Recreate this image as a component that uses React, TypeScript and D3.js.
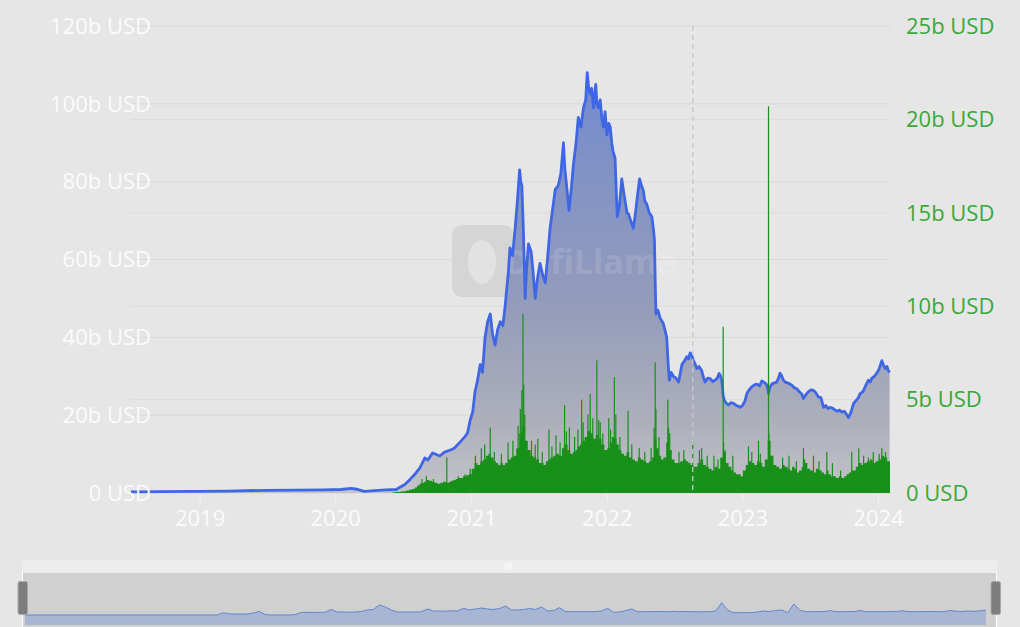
import React from "react";
import * as d3 from "d3";

// ---------- DATA ----------
// TVL (left axis, billions USD)
const tvlSeries: [string, number][] = [
  ["2018-06-29",0.3],["2018-09-15",0.35],["2018-12-01",0.4],["2019-01-01",0.4],["2019-03-15",0.5],["2019-06-30",0.7],["2019-09-15",0.75],["2019-12-01",0.8],["2020-01-15",0.9],["2020-02-12",1.2],["2020-03-01",0.9],["2020-03-18",0.4],["2020-04-15",0.6],["2020-05-15",0.8],["2020-06-12",0.9],["2020-06-22",1.5],["2020-07-05",2.2],["2020-07-19",3.5],["2020-08-01",4.8],["2020-08-15",6.5],["2020-08-28",9],["2020-09-05",8.5],["2020-09-18",10.3],["2020-09-25",10],["2020-10-07",9.5],["2020-10-20",10.5],["2020-11-03",11],["2020-11-15",11.5],["2020-11-30",13],["2020-12-14",14.5],["2020-12-21",15.5],["2020-12-28",18.7],
  ["2021-01-04",21],["2021-01-10",26],["2021-01-17",29],["2021-01-24",33],["2021-01-30",31],["2021-02-06",40],["2021-02-13",44],["2021-02-20",46],["2021-02-26",41],["2021-03-05",38],["2021-03-12",42],["2021-03-19",44],["2021-03-26",43],["2021-04-01",48],["2021-04-10",57],["2021-04-14",63],["2021-04-21",61],["2021-04-28",68],["2021-05-04",75],["2021-05-10",83],["2021-05-13",80],["2021-05-16",79],["2021-05-20",68],["2021-05-25",50],["2021-05-29",58],["2021-06-03",64],["2021-06-10",62],["2021-06-15",57],["2021-06-21",50],["2021-06-27",55],["2021-07-04",59],["2021-07-11",56],["2021-07-18",54],["2021-07-24",60],["2021-07-31",68],["2021-08-07",73],["2021-08-14",78],["2021-08-22",79],["2021-08-29",82],["2021-09-05",90],["2021-09-09",83],["2021-09-14",78.5],["2021-09-20",72.6],["2021-09-26",78],["2021-10-02",84.5],["2021-10-09",90],["2021-10-15",96.5],["2021-10-22",94],["2021-10-29",99],["2021-11-04",101],["2021-11-08",108],["2021-11-12",104],["2021-11-16",102.5],["2021-11-20",104],["2021-11-25",99],["2021-12-01",105],["2021-12-04",100],["2021-12-08",99],["2021-12-13",101],["2021-12-17",96.5],["2021-12-22",94],["2021-12-26",98],["2021-12-31",92],
  ["2022-01-05",95],["2022-01-09",94],["2022-01-13",90],["2022-01-16",88],["2022-01-22",86],["2022-01-25",78],["2022-01-28",71],["2022-02-03",74],["2022-02-09",80.7],["2022-02-13",78],["2022-02-18",75],["2022-02-23",72],["2022-02-27",71.7],["2022-03-05",70],["2022-03-12",68],["2022-03-18",72],["2022-03-24",77],["2022-03-29",80.7],["2022-04-03",79],["2022-04-08",77.7],["2022-04-12",75],["2022-04-17",74.3],["2022-04-24",72],["2022-05-01",71],["2022-05-05",68],["2022-05-08",65],["2022-05-10",54],["2022-05-12",46],["2022-05-17",47],["2022-05-23",45],["2022-06-01",43.5],["2022-06-10",40],["2022-06-14",33],["2022-06-17",29],["2022-06-22",31],["2022-06-28",30],["2022-07-05",29.5],["2022-07-12",28.5],["2022-07-17",31],["2022-07-21",33],["2022-07-28",34],["2022-08-03",35],["2022-08-08",34.5],["2022-08-12",36],["2022-08-16",35.5],["2022-08-21",34],["2022-08-26",33],["2022-08-30",32],["2022-09-05",32.5],["2022-09-12",31.5],["2022-09-16",30],["2022-09-21",28.5],["2022-09-28",29.5],["2022-10-05",29.4],["2022-10-12",28.6],["2022-10-18",29],["2022-10-24",29.5],["2022-10-29",30.7],["2022-11-02",30],["2022-11-05",29],["2022-11-09",25],["2022-11-12",23.8],["2022-11-18",23],["2022-11-23",22.6],["2022-11-30",23.2],["2022-12-07",23],["2022-12-14",22.5],["2022-12-20",22.3],["2022-12-25",22],["2022-12-31",22.5],
  ["2023-01-06",23.5],["2023-01-12",25.6],["2023-01-18",26.5],["2023-01-25",27.3],["2023-02-01",27.8],["2023-02-08",28],["2023-02-15",27.5],["2023-02-21",28.8],["2023-02-26",28.5],["2023-03-05",28],["2023-03-10",26.5],["2023-03-11",25.6],["2023-03-14",27],["2023-03-20",28],["2023-03-27",28.3],["2023-04-02",28.5],["2023-04-07",29.5],["2023-04-11",30.8],["2023-04-15",30.2],["2023-04-20",29],["2023-04-25",28.5],["2023-05-01",28.3],["2023-05-08",28],["2023-05-15",27.5],["2023-05-20",27],["2023-05-26",26.8],["2023-06-02",26],["2023-06-08",25.5],["2023-06-13",24.3],["2023-06-19",25.2],["2023-06-26",26],["2023-07-03",26.5],["2023-07-10",26.4],["2023-07-16",25.8],["2023-07-23",24.7],["2023-07-30",24.5],["2023-08-06",22],["2023-08-12",22.5],["2023-08-18",21.7],["2023-08-24",22],["2023-08-30",21.8],["2023-09-06",21.3],["2023-09-12",21],["2023-09-18",21.3],["2023-09-24",20.8],["2023-10-01",21],["2023-10-07",20.2],["2023-10-12",19.4],["2023-10-18",20.5],["2023-10-26",23],["2023-11-02",23.8],["2023-11-08",24.5],["2023-11-13",25.6],["2023-11-20",26],["2023-11-27",27.5],["2023-12-05",29],["2023-12-10",28.5],["2023-12-14",29.5],["2023-12-19",29.8],["2023-12-25",30.5],
  ["2024-01-01",31.5],["2024-01-05",32.5],["2024-01-10",34],["2024-01-14",33],["2024-01-19",32],["2024-01-24",32.5],["2024-01-27",31.5],["2024-01-31",31]
];

// Volume (right axis, billions USD): weekly levels per month
const volMonths = [
  "2020-06","2020-07","2020-08","2020-09","2020-10","2020-11","2020-12",
  "2021-01","2021-02","2021-03","2021-04","2021-05","2021-06","2021-07","2021-08","2021-09","2021-10","2021-11","2021-12",
  "2022-01","2022-02","2022-03","2022-04","2022-05","2022-06","2022-07","2022-08","2022-09","2022-10","2022-11","2022-12",
  "2023-01","2023-02","2023-03","2023-04","2023-05","2023-06","2023-07","2023-08","2023-09","2023-10","2023-11","2023-12",
  "2024-01"
];
const volWeekly: number[][] = [
  [0.03,0.05,0.06,0.08],[0.1,0.13,0.18,0.22],[0.3,0.4,0.5,0.55,0.6],[0.7,0.65,0.6,0.55],[0.5,0.55,0.6,0.55],[0.6,0.65,0.7,0.75,0.8],[0.8,0.9,0.95,1.0],
  [1.3,1.6,1.5,1.7],[1.8,2.0,2.1,1.9],[1.7,1.6,1.5,1.6,1.5],[1.6,1.8,1.9,2.0],[2.4,3.2,3.6,2.8],[2.3,2.0,1.9,1.8],[1.6,1.6,1.5,1.7,1.8],[1.9,2.0,2.1,2.0],[2.4,2.6,2.3,2.1],[2.2,2.3,2.5,2.6,2.8],[3.0,3.3,3.2,2.9],[3.1,2.9,2.6,2.3],
  [2.4,2.7,3.0,2.9,2.6],[2.3,2.1,2.0,2.2],[1.9,1.8,1.7,1.9],[1.8,1.7,1.6,1.7],[1.9,2.9,2.4,2.0,1.8],[1.9,2.7,2.3,1.8],[1.6,1.6,1.7,1.8],[1.7,1.6,1.5,1.4,1.4],[1.6,1.8,1.5,1.4],[1.3,1.2,1.4,1.3],[1.9,2.2,1.6,1.4],[1.2,1.1,1.0,1.0,0.9],
  [1.2,1.5,1.7,1.6],[1.5,1.7,1.6,1.4],[1.8,2.8,2.0,1.5],[1.4,1.3,1.5,1.4],[1.3,1.2,1.4,1.3,1.1],[1.2,1.4,1.6,1.3],[1.2,1.1,1.3,1.2],[1.1,1.0,1.2,1.0,0.9],[0.9,0.8,0.9,0.8],[0.9,1.0,1.1,1.2,1.2],[1.4,1.6,1.5,1.6],[1.7,1.8,1.6,1.7],
  [1.8,2.0,1.9,1.7]
];
// Daily volume spikes (billions USD)
const volSpikes: [string, number][] = [
  ["2020-08-20",0.75],["2020-09-01",0.9],["2020-09-20",0.75],["2020-10-26",1.9],["2020-11-26",0.9],["2020-12-14",1.0],["2020-12-28",1.3],
  ["2021-01-11",2.0],["2021-01-27",2.4],["2021-02-05",2.6],["2021-02-20",3.5],["2021-03-03",2.2],["2021-03-22",2.1],["2021-04-09",2.7],["2021-04-22",2.8],["2021-05-06",3.6],["2021-05-12",4.5],["2021-05-16",5.5],["2021-05-19",9.6],["2021-05-21",5.8],["2021-05-24",4.2],["2021-06-11",2.8],["2021-06-21",2.6],["2021-06-28",2.9],["2021-07-10",2.2],["2021-07-28",3.4],["2021-08-05",2.5],["2021-08-16",3.1],["2021-08-27",2.7],["2021-09-08",4.7],["2021-09-13",3.3],["2021-09-21",3.5],["2021-10-05",3.0],["2021-10-14",3.4],["2021-10-24",5.0],["2021-10-28",3.8],["2021-11-10",4.2],["2021-11-16",5.3],["2021-11-23",4.0],["2021-12-04",7.1],["2021-12-09",3.9],["2021-12-13",3.8],["2021-12-20",3.2],
  ["2022-01-05",4.0],["2022-01-10",3.4],["2022-01-20",6.2],["2022-01-24",4.2],["2022-02-04",3.0],["2022-02-26",4.4],["2022-03-08",2.6],["2022-03-28",2.4],["2022-04-12",2.2],["2022-04-29",2.4],["2022-05-07",3.5],["2022-05-10",7.0],["2022-05-12",4.5],["2022-05-20",3.0],["2022-06-13",5.0],["2022-06-15",3.5],["2022-06-18",3.2],["2022-07-13",2.2],["2022-07-26",2.3],["2022-08-19",2.8],["2022-09-06",2.3],["2022-09-12",2.4],["2022-09-27",2.0],["2022-10-15",2.0],["2022-10-26",1.8],["2022-11-09",8.9],["2022-11-10",2.7],["2022-11-14",2.3],["2022-12-05",2.0],
  ["2023-01-16",2.5],["2023-01-25",2.2],["2023-02-12",2.8],["2023-02-17",2.1],["2023-03-11",20.7],["2023-03-12",3.2],["2023-03-13",2.5],["2023-04-18",1.9],["2023-05-05",2.0],["2023-05-25",1.7],["2023-06-13",2.4],["2023-06-16",1.8],["2023-07-10",2.0],["2023-07-25",1.7],["2023-08-15",2.2],["2023-08-30",1.6],["2023-09-21",1.2],["2023-10-21",2.2],["2023-11-09",2.4],["2023-11-22",2.0],["2023-12-05",1.9],["2023-12-18",2.2],
  ["2024-01-03",2.1],["2024-01-10",2.4],["2024-01-20",2.2]
];

const leftTicks = [0, 20, 40, 60, 80, 100, 120];
const rightTicks = [0, 5, 10, 15, 20, 25];
const yearTicks = ["2019", "2020", "2021", "2022", "2023", "2024"];
const markDate = "2022-08-19";
const xDomain = ["2018-06-29", "2024-02-01"];

// Data-zoom overview series (relative level, evenly spaced)
const miniSeries = [
  10,10,10,10,10,10,10,10,10,10,10,10,10,10,10,10,10,10,10,10,10,10,10,10,10,10,10,10,10,10,10,10,10,
  12.3,11,11,11,11,12,13.5,10.5,10,10,10,10,10.5,12.5,12.7,12.5,12.7,12.8,15.5,13,13,12.8,13,13.5,15,15.5,20,18,15,
  13,13,13,13,13.2,16,14,14,13.8,14.2,14,16.7,15,16,17,16,15.5,16.5,19,15,15,15.5,16.5,15.5,18,14,14.5,17.3,
  13.5,13.3,13.3,13.5,13.3,13.5,14,16.7,12.7,13,14.5,16,13.3,13.3,13.5,13.3,13.5,13.3,13.6,13.3,13.5,13.3,13.2,13.3,13.4,14,22.3,14.7,
  12.3,12.3,12.5,12.3,13,14,13.5,14.5,15,12.3,21,14.7,13.3,13.3,13.5,13.3,14.5,13.3,13.3,13.5,13.3,14.5,13.3,13.4,13.3,13.3,13.6,13.3,14.3,
  13.4,13.3,13.5,13.3,13.5,13.4,13.3,14.5,13.8,13.5,14,13.6,14.2,14.8
];

// ---------- LAYOUT ----------
const W = 1020, H = 627;
const plotLeft = 131, plotRight = 890, plotTop = 26, plotBottom = 493;
const FONT = "'Open Sans', 'Noto Sans', sans-serif";
const BG = "#e6e6e6";

const parse = d3.utcParse("%Y-%m-%d");
const parseM = d3.utcParse("%Y-%m");

export default function App() {
  const x = d3.scaleUtc().domain(xDomain.map((s) => parse(s)!)).range([plotLeft, plotRight]);
  const yL = d3.scaleLinear().domain([0, 120]).range([plotBottom, plotTop]);
  const yR = d3.scaleLinear().domain([0, 25]).range([plotBottom, plotTop]);

  const tvl = tvlSeries.map(([d, v]) => ({ d: parse(d)!, v }));
  const line = d3.line<{ d: Date; v: number }>().x((p) => x(p.d)).y((p) => yL(p.v));
  const area = d3.area<{ d: Date; v: number }>().x((p) => x(p.d)).y0(plotBottom).y1((p) => yL(p.v));

  // weekly bars -> one continuous stepped outline (no seams)
  const stepPts: [number, number][] = [];
  volMonths.forEach((m, mi) => {
    const start = parseM(m)!;
    const end = d3.utcMonth.offset(start, 1);
    const vals = volWeekly[mi];
    const span = end.getTime() - start.getTime();
    vals.forEach((v, i) => {
      const a = new Date(start.getTime() + (span * i) / vals.length);
      const b = new Date(start.getTime() + (span * (i + 1)) / vals.length);
      stepPts.push([x(a), yR(v)], [x(b), yR(v)]);
    });
  });
  const stepPath =
    d3.line()([[stepPts[0][0], plotBottom], ...stepPts, [stepPts[stepPts.length - 1][0], plotBottom]]) + "Z";

  // mini chart
  const mx = d3.scaleLinear().domain([0, miniSeries.length - 1]).range([25, 986]);
  const my = d3.scaleLinear().domain([0, 30]).range([625, 595]);
  const miniLine = d3.line<number>().x((_, i) => mx(i)).y((v) => my(v));
  const miniArea = d3.area<number>().x((_, i) => mx(i)).y0(625).y1((v) => my(v));

  const markX = x(parse(markDate)!);
  const GREEN = "#18901a";

  return (
    <svg width={W} height={H} style={{ position: "fixed", left: 0, top: 0, background: BG }} fontFamily={FONT}>
      <defs>
        <linearGradient id="tvlGrad" gradientUnits="userSpaceOnUse" x1="0" y1={plotTop} x2="0" y2={plotBottom}>
          <stop offset="0" stopColor="#6c84d2" />
          <stop offset="0.27" stopColor="#7e91c7" />
          <stop offset="0.6" stopColor="#949cba" />
          <stop offset="0.85" stopColor="#adafbb" />
          <stop offset="1" stopColor="#c4c4c9" />
        </linearGradient>
      </defs>
      <rect x={0} y={0} width={W} height={H} fill={BG} />

      {/* grid lines */}
      {leftTicks.map((t) => (
        <line key={"gl" + t} x1={plotLeft} x2={plotRight} y1={yL(t)} y2={yL(t)} stroke="#d9d9d9" strokeWidth={1} />
      ))}
      {rightTicks.map((t) => (
        <line key={"gr" + t} x1={plotLeft} x2={plotRight} y1={yR(t)} y2={yR(t)} stroke="#dcdcdc" strokeWidth={1} />
      ))}

      {/* watermark logo behind */}
      <g opacity={0.8}>
        <rect x={452} y={225} width={62} height={72} rx={10} fill="#d2d2d2" />
        <ellipse cx={482} cy={262} rx={14} ry={22} fill="#e2e2e2" />
      </g>

      {/* TVL area + line */}
      <path d={area(tvl)!} fill="url(#tvlGrad)" />
      <text x={505} y={274} fontSize={34} fontWeight={700} fill="#ffffff" opacity={0.12}>DefiLlama</text>
      <path d={line(tvl)!} fill="none" stroke="#3f66e4" strokeWidth={2.8} strokeLinejoin="round" />

      {/* Volume bars */}
      <path d={stepPath} fill={GREEN} />
      {volSpikes.map(([d, v], i) => {
        const cx = x(parse(d)!);
        return <rect key={"s" + i} x={cx - 0.6} width={1.2} y={yR(v)} height={plotBottom - yR(v)} fill={GREEN} />;
      })}

      {/* mark line */}
      <line x1={markX} x2={markX} y1={plotTop} y2={plotBottom} stroke="#c8c8cc" strokeWidth={1.3} strokeDasharray="5,4" />

      {/* left axis labels */}
      {leftTicks.map((t) => (
        <text key={"ll" + t} x={151} y={yL(t)} dy="0.35em" textAnchor="end" fontSize={22} fill="#fbfbfb">
          {t === 0 ? "0 USD" : `${t}b USD`}
        </text>
      ))}
      {/* right axis labels */}
      {rightTicks.map((t) => (
        <text key={"rl" + t} x={906} y={yR(t)} dy="0.35em" textAnchor="start" fontSize={22} fill="#3aa83a">
          {t === 0 ? "0 USD" : `${t}b USD`}
        </text>
      ))}
      {/* x axis */}
      {yearTicks.map((yr) => {
        const px = x(parse(`${yr}-01-01`)!);
        return (
          <g key={"x" + yr}>
            <line x1={px} x2={px} y1={plotBottom + 1} y2={plotBottom + 9} stroke="#f4f4f4" strokeWidth={1} />
            <text x={px} y={526} textAnchor="middle" fontSize={22} fill="#fbfbfb">{yr}</text>
          </g>
        );
      })}

      {/* data zoom */}
      <rect x={22} y={560} width={975} height={13} fill="#ededed" />
      <rect x={22} y={573} width={975} height={54} fill="#d0d0d0" />
      <path d={miniArea(miniSeries)!} fill="#a9b6d3" />
      <path d={miniLine(miniSeries)!} fill="none" stroke="#5f87cd" strokeWidth={1} />
      <line x1={22.5} x2={22.5} y1={572} y2={627} stroke="#ffffff" strokeWidth={1} />
      <line x1={996.5} x2={996.5} y1={572} y2={627} stroke="#ffffff" strokeWidth={1} />
      {[506, 508.5, 511].map((hx) => (
        <line key={"h" + hx} x1={hx} x2={hx} y1={563} y2={570} stroke="#ffffff" strokeWidth={1} />
      ))}
      <rect x={18} y={581.5} width={9.5} height={33} rx={2} fill="#7d7d7d" stroke="#a8a8a8" strokeWidth={1} />
      <rect x={991} y={581.5} width={9.5} height={33} rx={2} fill="#7d7d7d" stroke="#a8a8a8" strokeWidth={1} />
    </svg>
  );
}
